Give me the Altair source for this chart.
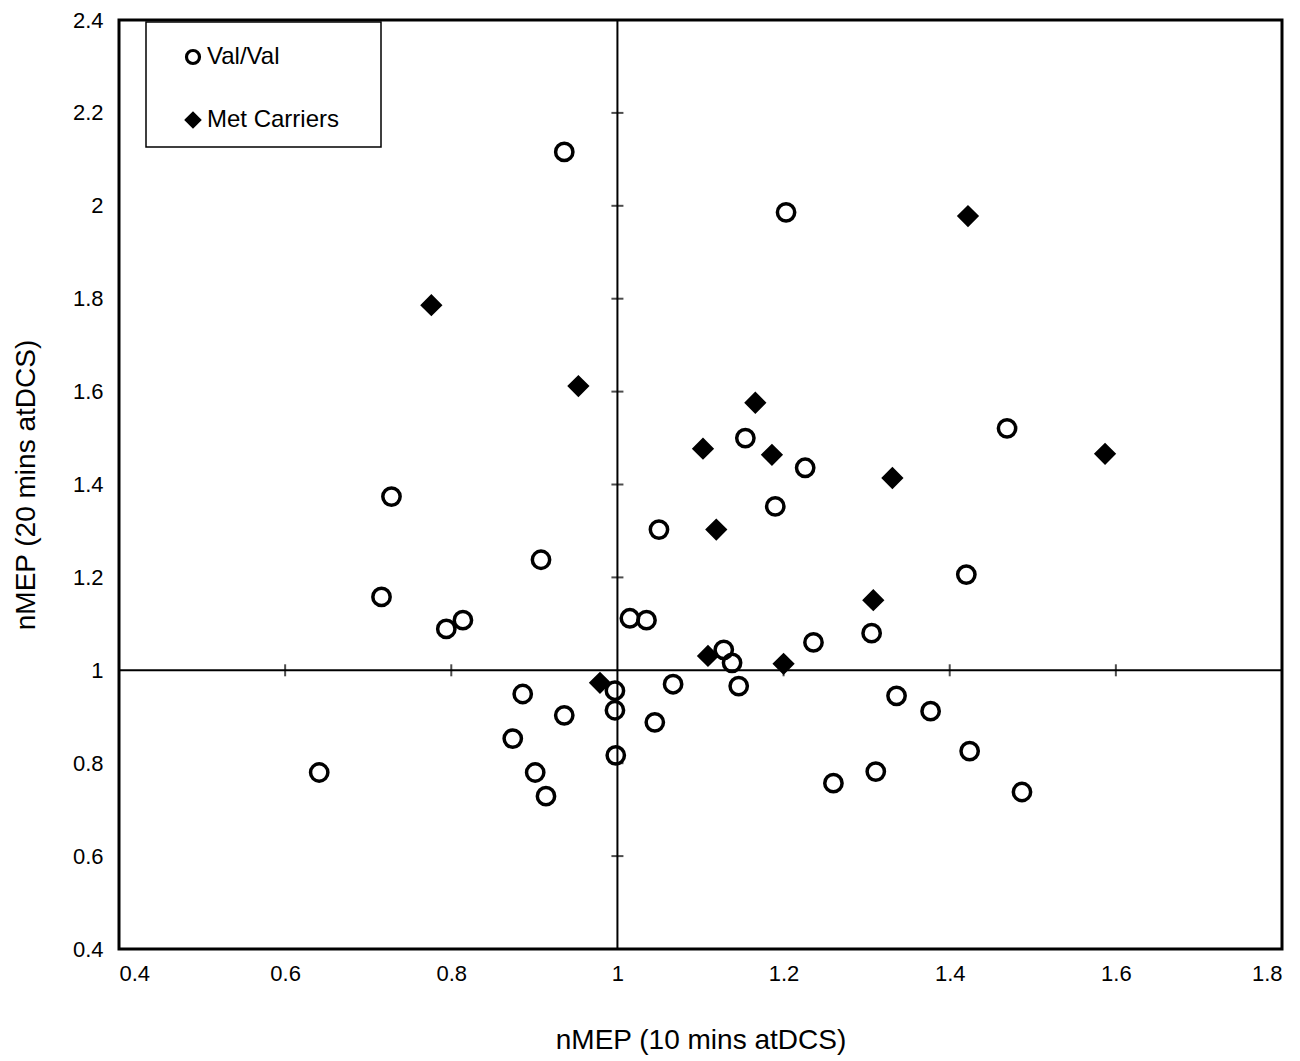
import altair as alt
import pandas as pd

# Val/Val (open circles)
val_x = [0.936, 1.203, 1.469, 1.154, 1.226, 0.728, 1.190, 1.050, 0.908, 1.420,
         0.716, 0.814, 0.794, 1.015, 1.035, 1.128, 1.138, 1.236, 1.306, 1.067,
         1.146, 0.886, 0.997, 0.997, 0.936, 1.045, 1.336, 1.377, 0.874, 0.998,
         1.424, 0.641, 0.901, 0.914, 1.260, 1.311, 1.487]
val_y = [2.116, 1.986, 1.521, 1.500, 1.436, 1.374, 1.353, 1.303, 1.238, 1.206,
         1.158, 1.108, 1.089, 1.112, 1.108, 1.044, 1.016, 1.060, 1.080, 0.970,
         0.966, 0.949, 0.956, 0.914, 0.903, 0.888, 0.945, 0.912, 0.853, 0.817,
         0.826, 0.780, 0.780, 0.729, 0.757, 0.782, 0.738]

# Met Carriers (filled diamonds)
met_x = [0.776, 0.953, 1.422, 1.166, 1.103, 1.186, 1.587, 1.331, 1.119, 1.308,
         1.109, 1.200, 0.979]
met_y = [1.786, 1.612, 1.978, 1.576, 1.477, 1.464, 1.466, 1.414, 1.303, 1.151,
         1.031, 1.014, 0.973]

groups = ["Val/Val", "Met Carriers"]
axis_ticks = [0.4, 0.6, 0.8, 1.0, 1.2, 1.4, 1.6, 1.8]
y_axis_ticks = [0.4, 0.6, 0.8, 1.0, 1.2, 1.4, 1.6, 1.8, 2.0, 2.2, 2.4]
cross_x_ticks = [0.6, 0.8, 1.2, 1.4, 1.6]
cross_y_ticks = [0.6, 0.8, 1.2, 1.4, 1.6, 1.8, 2.0, 2.2]
ref_value = [1.0]

df = pd.DataFrame({
    "x": val_x + met_x,
    "y": val_y + met_y,
    "group": [groups[0]] * len(val_x) + [groups[1]] * len(met_x),
})

FONT = "Liberation Sans"

xscale = alt.Scale(domain=[0.4, 1.8], nice=False, zero=False)
yscale = alt.Scale(domain=[0.4, 2.4], nice=False, zero=False)

xaxis = alt.Axis(values=axis_ticks, format=".1~f", title="nMEP (10 mins atDCS)",
                 grid=False, domain=False, ticks=False, tickSize=0,
                 labelFontSize=22, labelPadding=14, labelColor="black",
                 titleFontSize=28, titleFontWeight="normal", titlePadding=42,
                 titleColor="black", labelFont=FONT, titleFont=FONT)
yaxis = alt.Axis(values=y_axis_ticks, format=".1~f", title="nMEP (20 mins atDCS)",
                 grid=False, domain=False, ticks=False, tickSize=0,
                 labelFontSize=22, labelPadding=16, labelColor="black",
                 titleFontSize=28, titleFontWeight="normal", titlePadding=32,
                 titleColor="black", labelFont=FONT, titleFont=FONT)

# legend frame (decoration, pixel layout)
legend_box = alt.Chart(pd.DataFrame({"v": ref_value})).mark_rect(
    fill="white", stroke="black", strokeWidth=1.5).encode(
    x=alt.value(27), x2=alt.value(262), y=alt.value(2), y2=alt.value(127))

vline = alt.Chart(pd.DataFrame({"v": ref_value})).mark_rule(
    color="black", strokeWidth=2).encode(
    x=alt.X("v:Q", scale=xscale, axis=xaxis))
hline = alt.Chart(pd.DataFrame({"v": ref_value})).mark_rule(
    color="black", strokeWidth=2).encode(
    y=alt.Y("v:Q", scale=yscale, axis=yaxis))

xt = alt.Chart(pd.DataFrame({"t": cross_x_ticks})).mark_tick(
    orient="vertical", size=12, thickness=2, color="black").encode(
    x=alt.X("t:Q", scale=xscale, axis=xaxis),
    y=alt.datum(1.0, type="quantitative", scale=yscale))
yt = alt.Chart(pd.DataFrame({"t": cross_y_ticks})).mark_tick(
    orient="horizontal", size=12, thickness=2, color="black").encode(
    y=alt.Y("t:Q", scale=yscale, axis=yaxis),
    x=alt.datum(1.0, type="quantitative", scale=xscale))

legend = alt.Legend(title=None, orient="none", legendX=27, legendY=4,
                    padding=21, rowPadding=37, labelFontSize=24, labelFont=FONT,
                    labelColor="black", labelOffset=2, symbolOffset=14,
                    symbolSize=170, symbolStrokeWidth=3.2)

points = alt.Chart(df).mark_point(filled=True, strokeWidth=3.5,
                                  opacity=1, size=300).encode(
    x=alt.X("x:Q", scale=xscale, axis=xaxis),
    y=alt.Y("y:Q", scale=yscale, axis=yaxis),
    shape=alt.Shape("group:N", scale=alt.Scale(domain=groups, range=["circle", "diamond"]),
                    legend=legend),
    fill=alt.Fill("group:N", scale=alt.Scale(domain=groups, range=["transparent", "black"]),
                  legend=legend),
    stroke=alt.Stroke("group:N", scale=alt.Scale(domain=groups, range=["black", "black"]),
                      legend=legend),
)

chart = alt.layer(legend_box, vline, hline, xt, yt, points).properties(
    width=1163, height=929,
    padding={"left": 111, "top": 12, "right": 10, "bottom": 110},
    autosize="none",
    background="white",
).configure_view(stroke="black", strokeWidth=3)

chart.save("out.html", embed_options={"renderer": "svg", "actions": False})
